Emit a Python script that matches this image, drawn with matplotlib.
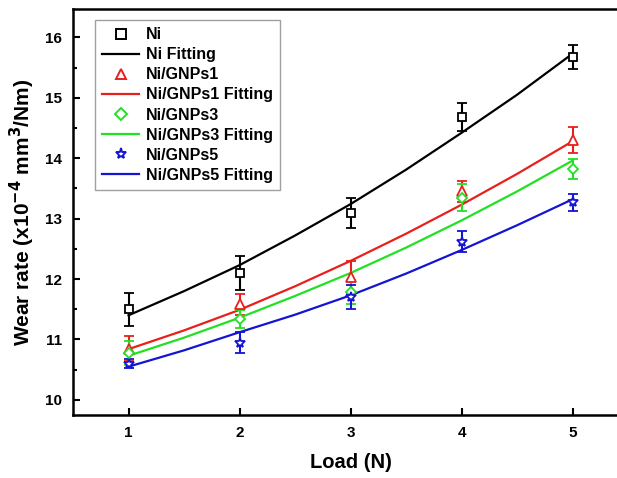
import matplotlib
matplotlib.use('Agg')
import matplotlib.pyplot as plt
from matplotlib.lines import Line2D
from matplotlib.ticker import MultipleLocator

plt.rcParams['font.family'] = ['Liberation Sans', 'DejaVu Sans']
plt.rcParams['font.weight'] = 'bold'
plt.rcParams['mathtext.default'] = 'bf'

# measured points
load = [1, 2, 3, 4, 5]
ni = [11.5, 12.1, 13.1, 14.68, 15.68]
ni_err = [0.27, 0.28, 0.25, 0.23, 0.2]
gnp1 = [10.85, 11.58, 12.03, 13.45, 14.3]
gnp1_err = [0.2, 0.17, 0.27, 0.18, 0.22]
gnp3 = [10.78, 11.34, 11.78, 13.35, 13.82]
gnp3_err = [0.2, 0.15, 0.2, 0.22, 0.17]
gnp5 = [10.6, 10.95, 11.7, 12.62, 13.27]
gnp5_err = [0.07, 0.18, 0.2, 0.18, 0.14]

# fitted curves
fit_x = [1, 1.5, 2, 2.5, 3, 3.5, 4, 4.5, 5]
ni_fit = [11.4, 11.8, 12.23, 12.72, 13.24, 13.81, 14.42, 15.05, 15.73]
gnp1_fit = [10.84, 11.15, 11.49, 11.88, 12.3, 12.75, 13.23, 13.74, 14.28]
gnp3_fit = [10.73, 11.03, 11.36, 11.72, 12.1, 12.52, 12.97, 13.45, 13.96]
gnp5_fit = [10.55, 10.82, 11.12, 11.41, 11.73, 12.09, 12.48, 12.89, 13.32]

names = ['Ni', 'Ni/GNPs1', 'Ni/GNPs3', 'Ni/GNPs5']
colors = ['black', '#e8201c', '#22e022', '#1414d2']
markers = ['s', '^', 'D', '*']
msizes = [6, 7, 5.5, 7.5]

fig = plt.figure(figsize=(6.17, 4.78), dpi=100)
ax = fig.add_axes([73/617, 1 - 415/478, 555/617, 406/478])

data = [(ni, ni_err, ni_fit), (gnp1, gnp1_err, gnp1_fit),
        (gnp3, gnp3_err, gnp3_fit), (gnp5, gnp5_err, gnp5_fit)]
handles = []
labels = []
for (y, e, f), name, c, m, ms in zip(data, names, colors, markers, msizes):
    ax.errorbar(load, y, yerr=e, fmt=m, color=c, mfc='white', mec=c, ms=ms,
                mew=1.3, capsize=3.5, capthick=1.5, elinewidth=1.5)
    ax.plot(fit_x, f, color=c, lw=1.6)
    handles.append(Line2D([], [], ls='none', marker=m, ms=ms + 0.5, mfc='white', mec=c, mew=1.4))
    labels.append(name)
    handles.append(Line2D([], [], color=c, lw=1.6))
    labels.append(name + ' Fitting')

ax.set_xlim(0.5, 5.5)
ax.set_ylim(9.75, 16.47)
ax.set_xticks(load)
ax.yaxis.set_major_locator(MultipleLocator(1))
ax.yaxis.set_minor_locator(MultipleLocator(0.5))
ax.tick_params(direction='in', width=1.5, length=5, labelsize=11, pad=8)
ax.tick_params(which='minor', direction='in', width=1.5, length=3)
for s in ax.spines.values():
    s.set_linewidth(1.8)
for t in ax.get_xticklabels() + ax.get_yticklabels():
    t.set_fontweight('bold')

ax.set_xlabel('Load (N)', fontsize=14.5, fontweight='bold', labelpad=9)
ax.set_ylabel('Wear rate (x10$^{-4}$ mm$^3$/Nm)', fontsize=15, fontweight='bold', labelpad=6)

leg = ax.legend(handles, labels, loc='upper left', bbox_to_anchor=(0.04, 0.973),
                borderaxespad=0, fontsize=11.5, frameon=True, fancybox=False,
                edgecolor='#888888', handlelength=2.3, labelspacing=0.32,
                borderpad=0.45, handletextpad=0.4)
leg.get_frame().set_linewidth(1.0)
for t in leg.get_texts():
    t.set_fontweight('bold')

fig.savefig('out.png', dpi=100)
